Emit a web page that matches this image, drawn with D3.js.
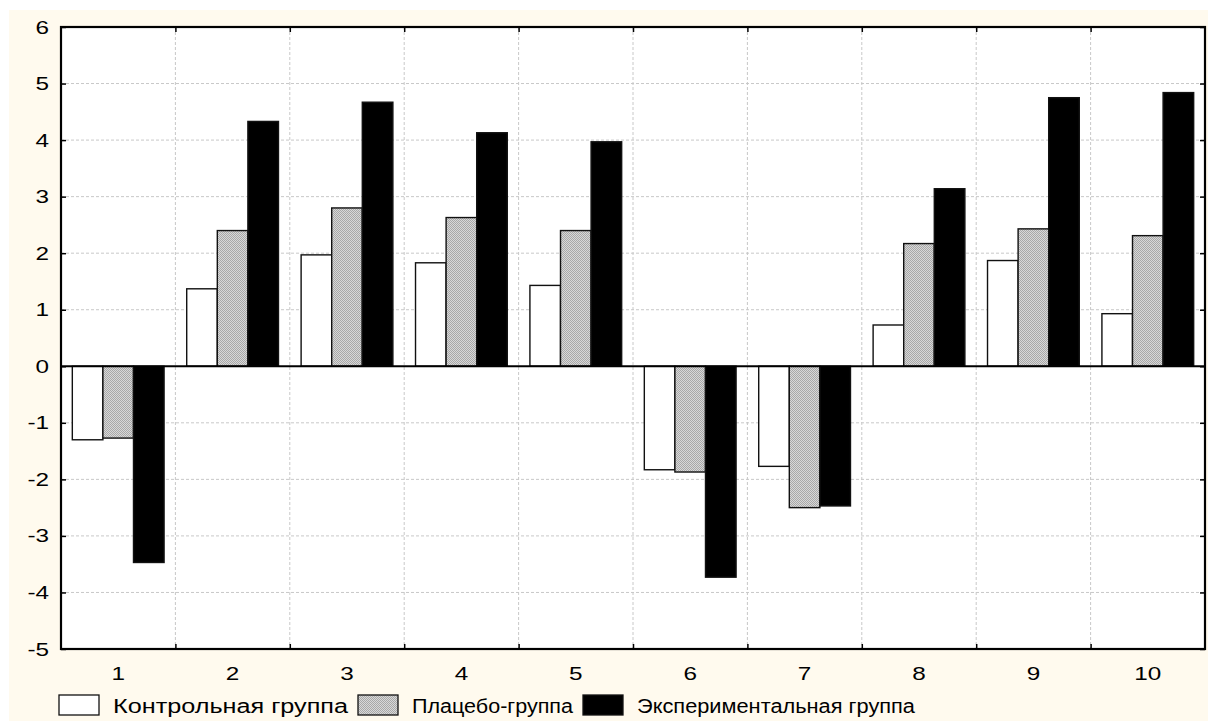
<!DOCTYPE html>
<html>
<head>
<meta charset="utf-8">
<script src="https://cdn.jsdelivr.net/npm/d3@7"></script>
<style>
  body { margin: 0; background: #fff; }
  svg { display: block; font-family: "Liberation Sans", Arial, sans-serif; }
</style>
</head>
<body>
<div id="chart"></div>
<script>
// categories and series values
const categories = ["1", "2", "3", "4", "5", "6", "7", "8", "9", "10"];
const seriesNames = ["Контрольная группа", "Плацебо-группа", "Экспериментальная группа"];
const controlValues = [-1.3, 1.37, 1.97, 1.83, 1.43, -1.83, -1.77, 0.73, 1.87, 0.93];
const placeboValues = [-1.27, 2.4, 2.8, 2.63, 2.4, -1.87, -2.5, 2.17, 2.43, 2.31];
const experimentValues = [-3.47, 4.33, 4.67, 4.13, 3.97, -3.73, -2.47, 3.14, 4.75, 4.84];
const yTicks = [-5, -4, -3, -2, -1, 0, 1, 2, 3, 4, 5, 6];

const W = 1208, H = 721;
const plot = { left: 61, right: 1205, top: 27, bottom: 649 };
// the original picture is stretched sideways, text too
const stretch = 1.35;

const svg = d3.select("#chart").append("svg")
    .attr("width", W)
    .attr("height", H);

// hatched gray fill for the placebo bars
const defs = svg.append("defs");
const pat = defs.append("pattern")
    .attr("id", "hatch")
    .attr("patternUnits", "userSpaceOnUse")
    .attr("width", 2).attr("height", 2);
pat.append("rect").attr("width", 2).attr("height", 2).attr("fill", "#d8d8d8");
pat.append("rect").attr("width", 1).attr("height", 1).attr("fill", "#a8a8a8");
pat.append("rect").attr("x", 1).attr("y", 1).attr("width", 1).attr("height", 1).attr("fill", "#a8a8a8");

const fills = ["#ffffff", "url(#hatch)", "#000000"];

// cream backdrop
svg.append("rect")
    .attr("x", 9).attr("y", 10)
    .attr("width", W - 9).attr("height", H - 10)
    .attr("fill", "#fffaee");

svg.append("rect")
    .attr("x", plot.left).attr("y", plot.top)
    .attr("width", plot.right - plot.left).attr("height", plot.bottom - plot.top)
    .attr("fill", "#ffffff");

const x = d3.scaleBand()
    .domain(categories)
    .range([plot.left, plot.right])
    .paddingInner(0)
    .paddingOuter(0);

const y = d3.scaleLinear()
    .domain([-5, 6])
    .range([plot.bottom, plot.top]);

const inner = d3.scaleBand()
    .domain([0, 1, 2])
    .range([0, x.bandwidth()])
    .paddingOuter(0.37)
    .paddingInner(0);

// grid
const grid = svg.append("g");
grid.selectAll("line.h")
    .data(yTicks.filter(d => d > -5 && d < 6 && d !== 0))
    .enter().append("line")
    .attr("x1", plot.left).attr("x2", plot.right)
    .attr("y1", d => y(d)).attr("y2", d => y(d))
    .attr("stroke", "#c8c8c8")
    .attr("stroke-dasharray", "3,2");
grid.selectAll("line.v")
    .data(categories.slice(1))
    .enter().append("line")
    .attr("x1", d => x(d)).attr("x2", d => x(d))
    .attr("y1", plot.top).attr("y2", plot.bottom)
    .attr("stroke", "#c8c8c8")
    .attr("stroke-dasharray", "3,2");

// bars
const allSeries = [controlValues, placeboValues, experimentValues];
allSeries.forEach((vals, s) => {
    svg.append("g").selectAll("rect")
        .data(vals)
        .enter().append("rect")
        .attr("x", (d, i) => x(categories[i]) + inner(s))
        .attr("y", d => y(Math.max(0, d)))
        .attr("width", inner.bandwidth())
        .attr("height", d => Math.abs(y(d) - y(0)))
        .attr("fill", fills[s])
        .attr("stroke", "#111")
        .attr("stroke-width", 1.4);
});

// zero line
svg.append("line")
    .attr("x1", plot.left).attr("x2", plot.right)
    .attr("y1", y(0)).attr("y2", y(0))
    .attr("stroke", "#000").attr("stroke-width", 2.2);

// axes ticks (inward), labels drawn separately
const gl = svg.append("g").attr("transform", `translate(${plot.left},0)`)
    .call(d3.axisLeft(y).tickValues(yTicks).tickSize(-5).tickFormat(""));
gl.select(".domain").remove();
gl.selectAll("line").attr("stroke", "#000").attr("stroke-width", 1.5);

const gr = svg.append("g").attr("transform", `translate(${plot.right},0)`)
    .call(d3.axisRight(y).tickValues(yTicks).tickSize(-5).tickFormat(""));
gr.select(".domain").remove();
gr.selectAll("line").attr("stroke", "#000").attr("stroke-width", 1.5);

const boundaries = categories.slice(1).map(c => x(c));
const bx = d3.scaleLinear().domain([plot.left, plot.right]).range([plot.left, plot.right]);
const gb = svg.append("g").attr("transform", `translate(0,${plot.bottom})`)
    .call(d3.axisBottom(bx).tickValues(boundaries).tickSize(-5).tickFormat(""));
gb.select(".domain").remove();
gb.selectAll("line").attr("stroke", "#000").attr("stroke-width", 1.5);
const gt = svg.append("g").attr("transform", `translate(0,${plot.top})`)
    .call(d3.axisTop(bx).tickValues(boundaries).tickSize(-5).tickFormat(""));
gt.select(".domain").remove();
gt.selectAll("line").attr("stroke", "#000").attr("stroke-width", 1.5);

// y labels
svg.append("g").selectAll("text")
    .data(yTicks)
    .enter().append("text")
    .attr("transform", d => `translate(49,${y(d) + 6.5}) scale(${stretch},1)`)
    .attr("text-anchor", "end")
    .attr("font-size", 18)
    .text(d => String(d));

// category labels
svg.append("g").selectAll("text")
    .data(categories)
    .enter().append("text")
    .attr("transform", d => `translate(${x(d) + x.bandwidth() / 2},680) scale(${stretch},1)`)
    .attr("text-anchor", "middle")
    .attr("font-size", 18)
    .text(d => d);

// frame
svg.append("rect")
    .attr("x", plot.left).attr("y", plot.top)
    .attr("width", plot.right - plot.left).attr("height", plot.bottom - plot.top)
    .attr("fill", "none")
    .attr("stroke", "#000").attr("stroke-width", 2.2);

// legend
const legendX = [59, 358, 583];
const legendTextW = [235, 161, 278];
const legend = svg.append("g");
seriesNames.forEach((name, i) => {
    legend.append("rect")
        .attr("x", legendX[i]).attr("y", 695)
        .attr("width", 40).attr("height", 20)
        .attr("fill", fills[i])
        .attr("stroke", "#111").attr("stroke-width", 1.3);
    legend.append("text")
        .attr("x", legendX[i] + 54).attr("y", 713)
        .attr("font-size", 20)
        .attr("textLength", legendTextW[i])
        .attr("lengthAdjust", "spacingAndGlyphs")
        .text(name);
});
</script>
</body>
</html>
